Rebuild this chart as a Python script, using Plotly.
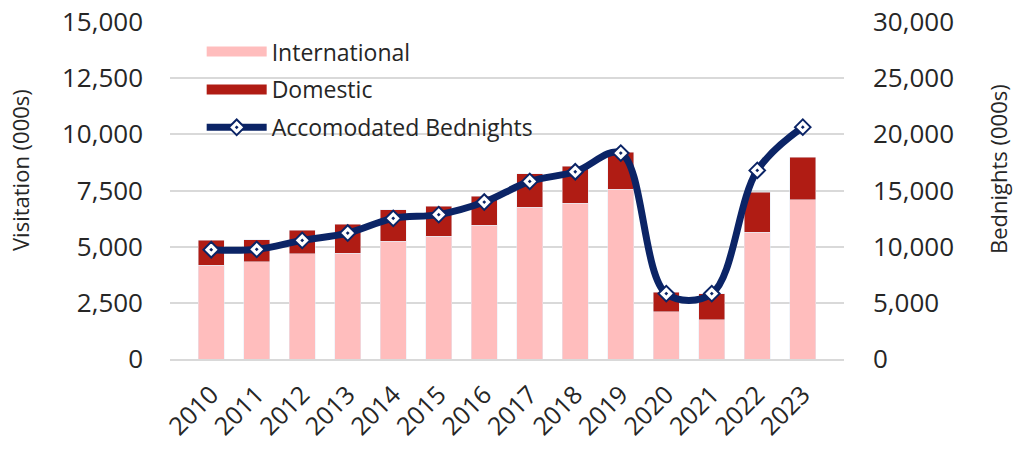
import plotly.graph_objects as go

years = ["2010", "2011", "2012", "2013", "2014", "2015", "2016",
         "2017", "2018", "2019", "2020", "2021", "2022", "2023"]
international = [4180, 4330, 4690, 4715, 5250, 5470, 5960,
                 6760, 6930, 7560, 2110, 1750, 5640, 7090]
total_visitation = [5280, 5310, 5740, 6005, 6650, 6810, 7250,
                    8250, 8570, 9195, 2965, 2910, 7415, 8985]
domestic = [t - i for t, i in zip(total_visitation, international)]
bednights = [9730, 9760, 10560, 11210, 12520, 12850, 13970,
             15810, 16670, 18330, 5820, 5820, 16790, 20640]

PINK = "#ffbdbd"
RED = "#b01c14"
NAVY = "#0b2466"
FONT = "Open Sans"
TXT = "#262626"

fig = go.Figure()
fig.add_trace(go.Bar(x=years, y=international, marker_color=PINK, name="International",
                     showlegend=False, yaxis="y"))
fig.add_trace(go.Bar(x=years, y=domestic, marker_color=RED, name="Domestic",
                     showlegend=False, yaxis="y"))
# legend proxies (wide rectangles)
fig.add_trace(go.Scatter(x=[None], y=[None], mode="lines", name="International",
                         line=dict(color=PINK, width=15), legendgroup="a"))
fig.add_trace(go.Scatter(x=[None], y=[None], mode="lines", name="Domestic",
                         line=dict(color=RED, width=15), legendgroup="b"))
fig.add_trace(go.Scatter(x=years, y=bednights, mode="lines+markers", name="Accomodated Bednights",
                         line=dict(color=NAVY, width=7, shape="spline", smoothing=1.0),
                         marker=dict(symbol="diamond-dot", size=12, color="white",
                                     line=dict(color=NAVY, width=2)),
                         yaxis="y2", legendgroup="c"))

fig.update_layout(
    width=1024, height=449,
    margin=dict(l=170, r=180, t=22, b=90, autoexpand=False),
    paper_bgcolor="white", plot_bgcolor="white",
    barmode="stack", bargap=0.43,
    font=dict(family=FONT, size=26, color=TXT),
    xaxis=dict(type="category", tickangle=-45, showgrid=False, showline=True,
               linecolor="#d9d9d9", linewidth=2, ticks="", ticklabelstandoff=9,
               tickfont=dict(size=25), automargin=False),
    yaxis=dict(range=[0, 15000], dtick=2500, tickformat=",", showgrid=True,
               gridcolor="#d9d9d9", gridwidth=1.5, zeroline=False, ticks="",
               ticklabelstandoff=26, automargin=False),
    yaxis2=dict(range=[0, 30000], dtick=5000, tickformat=",", overlaying="y", side="right",
                showgrid=False, zeroline=False, ticks="", ticklabelstandoff=28, automargin=False),
    legend=dict(x=0.047, y=0.976, xanchor="left", yanchor="top", bgcolor="rgba(0,0,0,0)",
                itemwidth=60, tracegroupgap=5, traceorder="grouped",
                font=dict(size=23)),
    showlegend=True,
    annotations=[
        dict(text="Visitation (000s)", textangle=-90, xref="paper", yref="paper",
             x=(20 - 170) / 674, y=(359 - 170) / 337, xanchor="center", yanchor="middle",
             showarrow=False, font=dict(size=22, color=TXT)),
        dict(text="Bednights (000s)", textangle=-90, xref="paper", yref="paper",
             x=(998 - 170) / 674, y=(359 - 169) / 337, xanchor="center", yanchor="middle",
             showarrow=False, font=dict(size=22, color=TXT)),
    ],
)

fig.write_html("out.html", config={"displayModeBar": False},
               post_script="document.body.style.margin='0';document.body.style.overflow='hidden';")
